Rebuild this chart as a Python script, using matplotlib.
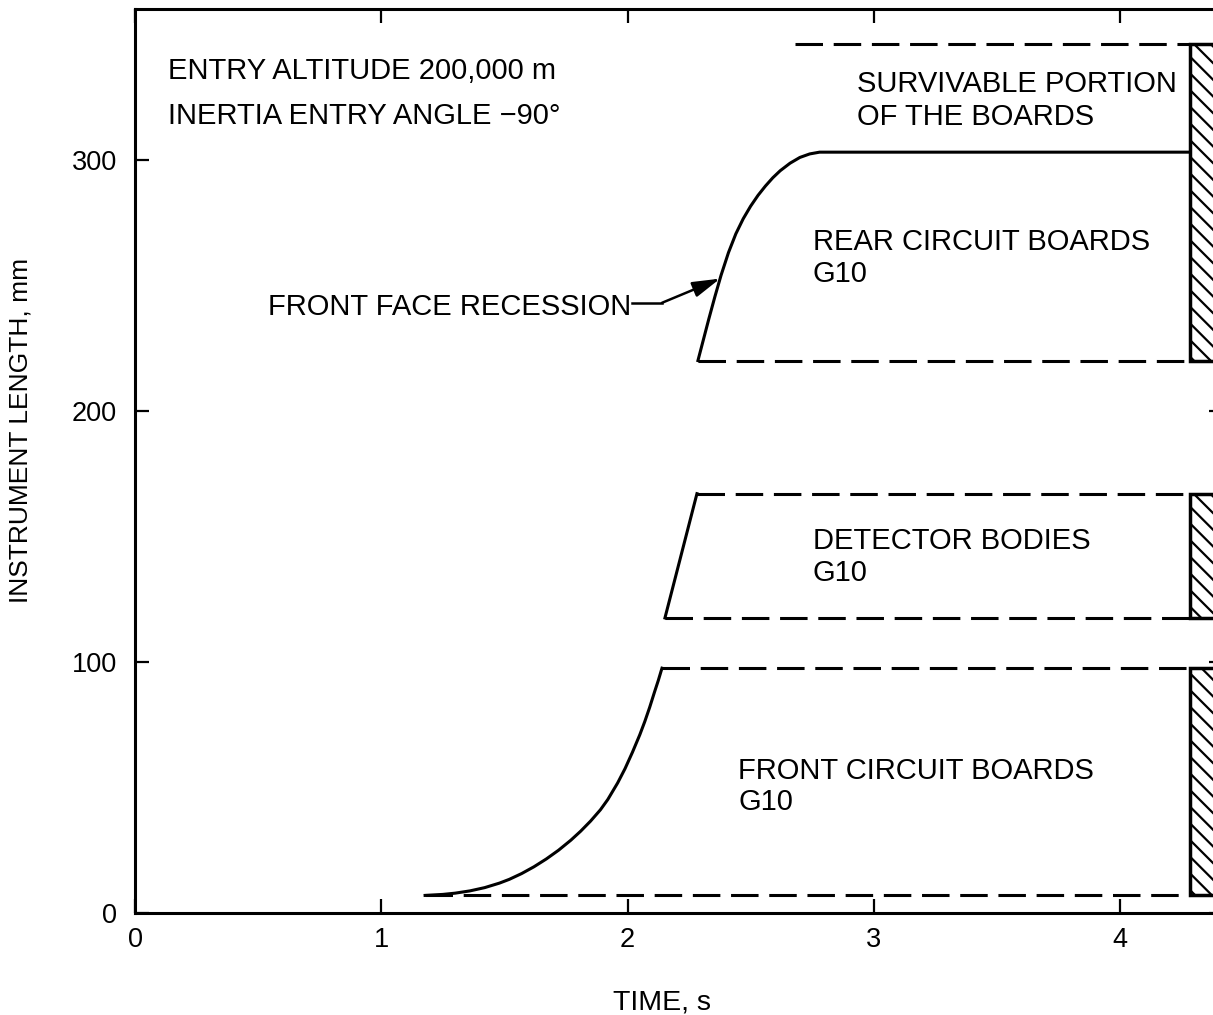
import numpy as np
import matplotlib
matplotlib.use("Agg")
import matplotlib.pyplot as plt

plt.rcParams["font.family"] = ["Liberation Sans", "DejaVu Sans"]
plt.rcParams["hatch.linewidth"] = 1.6

# front face recession through the front circuit boards (time s, length mm)
front_t = [1.178, 1.25, 1.30, 1.36, 1.42, 1.48, 1.52, 1.57, 1.62, 1.67,
           1.72, 1.77, 1.81, 1.85, 1.89, 1.92, 1.96, 1.99, 2.02, 2.05,
           2.07, 2.09, 2.11, 2.125, 2.14]
front_len = [7, 7.4, 7.9, 8.8, 10.1, 11.9, 13.4, 15.7, 18.4, 21.5,
             25.0, 29.0, 32.6, 36.6, 41.1, 45.2, 51.8, 57.5, 64, 71,
             76.2, 81.9, 88.1, 92.6, 97.5]

# recession through the detector bodies
det_t = [2.152, 2.282]
det_len = [117.5, 167]

# recession through the rear circuit boards, then flat to the end
rear_t = [2.286, 2.31, 2.33, 2.355, 2.38, 2.41, 2.44, 2.47, 2.50, 2.53,
          2.56, 2.59, 2.62, 2.66, 2.70, 2.74, 2.78, 4.285]
rear_len = [220, 229, 236.5, 245.5, 254, 263, 270.5, 276.5, 281.5, 285.8,
            289.5, 292.8, 295.6, 298.6, 300.9, 302.3, 303, 303]

# component boundaries (dashed lines): (length mm, start time s)
bounds_len = [7, 97.5, 117.5, 167, 220, 346]
bounds_t0 = [1.178, 2.14, 2.152, 2.282, 2.286, 2.68]

# survivable portions shown hatched at the end of the flight
t_survive = 4.285
surv_lo = [7, 117.5, 220]
surv_hi = [97.5, 167, 346]

xticks = [0, 1, 2, 3, 4]
yticks = [0, 100, 200, 300]

fig = plt.figure(figsize=(12.13, 10.15), dpi=100)
ax = fig.add_axes([0.1113, 0.1005, 0.8973, 0.8906])

lw = 2.2
for y, t0 in zip(bounds_len, bounds_t0):
    ax.plot([t0, t_survive], [y, y], color="black", lw=lw, dashes=(9, 3.5))

ax.plot(front_t, front_len, color="black", lw=lw, solid_joinstyle="round")
ax.plot(det_t, det_len, color="black", lw=lw)
ax.plot(rear_t, rear_len, color="black", lw=lw, solid_joinstyle="round")

for lo, hi in zip(surv_lo, surv_hi):
    ax.bar(t_survive, hi - lo, width=0.5, bottom=lo, align="edge",
           facecolor="white", edgecolor="black", hatch="\\\\", lw=2.5,
           zorder=3)

ax.set_xlim(0, 4.42)
ax.set_ylim(0, 360)
ax.set_xticks(xticks)
ax.set_yticks(yticks)
ax.tick_params(axis="both", direction="in", length=10, width=1.6,
               top=True, right=True, labelsize=19.5)
ax.tick_params(axis="x", pad=10)
ax.tick_params(axis="y", pad=13)
for s in ax.spines.values():
    s.set_linewidth(2.2)

ax.set_xlabel("TIME, s", fontsize=20.5)
ax.xaxis.set_label_coords(0.484, -0.085)
ax.set_ylabel("INSTRUMENT LENGTH, mm", fontsize=19)
ax.yaxis.set_label_coords(-0.094, 0.534)

fs = 21
notes = [
    (0.134, 335.5, "ENTRY ALTITUDE 200,000 m"),
    (0.134, 317.5, "INERTIA ENTRY ANGLE \u221290\u00b0"),
    (2.93, 330, "SURVIVABLE PORTION"),
    (2.93, 317, "OF THE BOARDS"),
    (2.753, 267.3, "REAR CIRCUIT BOARDS"),
    (2.753, 254.6, "G10"),
    (2.753, 148.2, "DETECTOR BODIES"),
    (2.753, 135.5, "G10"),
    (2.449, 56.6, "FRONT CIRCUIT BOARDS"),
    (2.449, 44.2, "G10"),
    (0.54, 241.4, "FRONT FACE RECESSION"),
]
for x, y, s in notes:
    ax.text(x, y, s, fontsize=fs, ha="left", va="center")

# leader from the label to the rear-board recession curve
tip_t = 2.376
tip_len = np.interp(tip_t, rear_t, rear_len)
ax.plot([2.018, 2.14], [243, 243], color="black", lw=1.8)
ax.annotate("", xy=(tip_t, tip_len), xytext=(2.14, 243),
            arrowprops=dict(arrowstyle="-|>,head_length=0.6,head_width=0.17",
                            color="black", lw=1.8, mutation_scale=28,
                            shrinkA=0, shrinkB=0))

fig.savefig("out.png", dpi=100)
